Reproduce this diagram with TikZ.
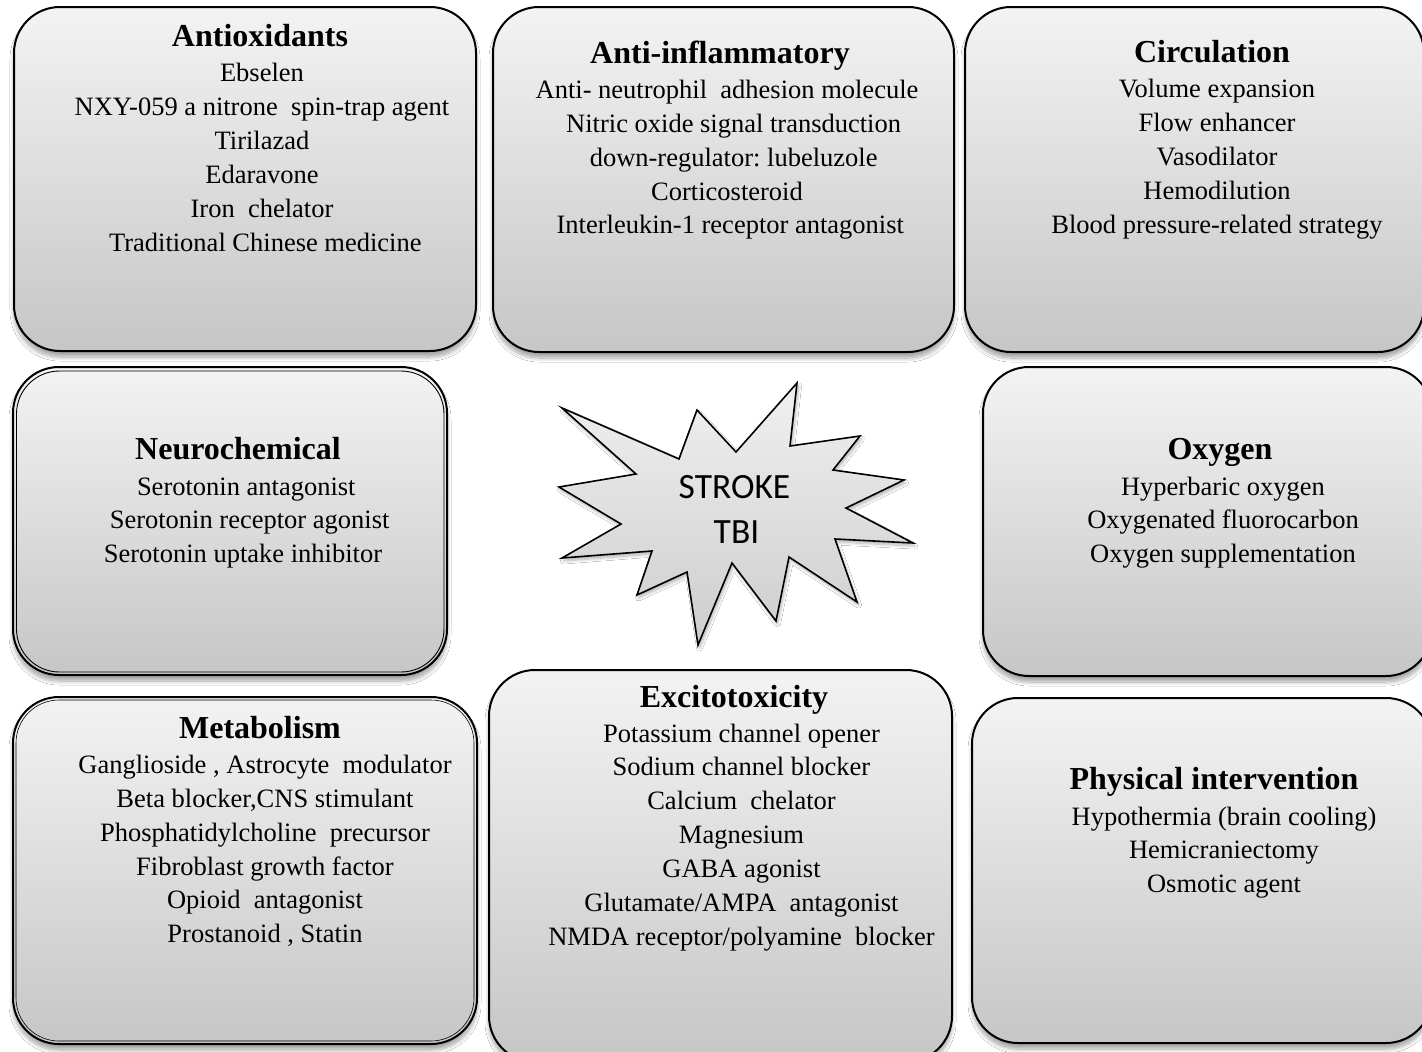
\documentclass[tikz,border=0pt]{standalone}
\usepackage{fontspec}
\setmainfont{Liberation Serif}
\newfontfamily\starfont{Carlito}
\usetikzlibrary{shadows.blur}
\definecolor{boxtop}{RGB}{243,243,243}
\definecolor{boxbot}{RGB}{198,198,198}
\definecolor{startop}{RGB}{240,240,240}
\definecolor{starbot}{RGB}{205,205,205}
\tikzset{
  box/.style={rectangle, rounded corners=46pt, draw=black, line width=2pt,
    top color=boxtop, bottom color=boxbot, inner sep=0pt, outer sep=0pt,
    blur shadow={shadow xshift=0pt, shadow yshift=-6pt, shadow blur radius=4pt, shadow opacity=35, shadow blur steps=8}},
  innerline/.style={draw=black, line width=0.9pt, rounded corners=43pt},
  title/.style={anchor=base, inner sep=0pt, font=\fontsize{32}{34}\selectfont\bfseries},
  body/.style={anchor=base, inner sep=0pt, font=\fontsize{26.5}{33.9}\selectfont},
  startext/.style={anchor=base, inner sep=0pt, font=\starfont\fontsize{35.5}{45}\selectfont},
  starshape/.style={draw=black, line width=1.6pt, line join=miter, top color=startop, bottom color=starbot,
    blur shadow={shadow xshift=1.5pt, shadow yshift=-3pt, shadow blur radius=3pt, shadow opacity=30, shadow blur steps=8}}
}
\newcommand{\lines}[1]{\begin{tabular}[t]{@{}c@{}}#1\end{tabular}}
\begin{document}
\begin{tikzpicture}[x=1pt, y=-1pt]
\fill[white] (0,0) rectangle (1422,1052);
\path[use as bounding box] (0,0) rectangle (1422,1052);
\clip (0,0) rectangle (1422,1052);

% boxes
\node[box, minimum width=462pt, minimum height=344pt] (antiox) at (245,179) {};
\node[box, minimum width=461pt, minimum height=345pt] (antiinf) at (723.5,179.5) {};
\node[box, minimum width=459pt, minimum height=345pt] (circ) at (1194.5,179.5) {};
\node[box, minimum width=434pt, minimum height=308pt] (neuro) at (230,521) {};
\draw[innerline] ([shift={(3.5pt,-4pt)}]neuro.north west) rectangle ([shift={(-3pt,3pt)}]neuro.south east);
\node[box, minimum width=449pt, minimum height=309pt] (oxy) at (1207.5,521.5) {};
\node[box, minimum width=464pt, minimum height=347pt] (metab) at (245,870.5) {};
\draw[innerline, line width=0.6pt] ([shift={(3pt,-3pt)}]metab.north west) rectangle ([shift={(-3pt,3pt)}]metab.south east);
\node[box, minimum width=463pt, minimum height=392pt] (excit) at (720.5,866) {};
\node[box, minimum width=460pt, minimum height=345pt] (phys) at (1202,870.5) {};

% star
\draw[starshape] (562,408) -- (679,459) -- (697,410) -- (736,452) -- (797,383) -- (790,446)
  -- (860,436) -- (833,470) -- (904,480) -- (846,508) -- (913,543) -- (835,539)
  -- (857,602) -- (789,557) -- (776,621) -- (732,563) -- (698,645) -- (687,572)
  -- (637,595) -- (652,551) -- (562,558) -- (621,524) -- (559,487) -- (636,474) -- cycle;
\node[startext] (stroke) at (734.5,498) {STROKE};
\node[startext] (tbi) at (736.5,543) {TBI};

% texts
\node[title] (antioxT) at (260,46.5) {Antioxidants};
\node[body] (antioxB) at (262,81.7) {\lines{Ebselen\\NXY-059 a nitrone\ \ spin-trap agent\\Tirilazad\\Edaravone\\Iron\ \ chelator\\\ Traditional Chinese medicine}};

\node[title] (antiinfT) at (720,63.3) {Anti-inflammatory};
\node[body] (antiinfB) at (727,98.3) {\lines{Anti- neutrophil\ \ adhesion molecule\ \\\ \ Nitric oxide signal transduction\\\ \ down-regulator:\ lubeluzole\\Corticosteroid\\\ Interleukin-1 receptor antagonist}};

\node[title] (circT) at (1212,62.7) {Circulation};
\node[body] (circB) at (1217,97.5) {\lines{Volume expansion\\Flow enhancer\\Vasodilator\\Hemodilution\\Blood pressure-related strategy}};

\node[title] (neuroT) at (238,459) {Neurochemical};
\node[body] (neuroB) at (243,495) {\lines{\ Serotonin antagonist\\\ \ Serotonin receptor agonist\\Serotonin uptake inhibitor}};

\node[title] (oxyT) at (1220,459) {Oxygen};
\node[body] (oxyB) at (1223,495) {\lines{Hyperbaric oxygen\\Oxygenated fluorocarbon\\Oxygen supplementation}};

\node[title] (metabT) at (260,738) {Metabolism};
\node[body] (metabB) at (265,773.3) {\lines{Ganglioside , Astrocyte\ \ modulator\\Beta blocker,CNS stimulant\\Phosphatidylcholine\ \ precursor\\Fibroblast growth factor\\Opioid\ \ antagonist\\Prostanoid ,\ Statin}};

\node[title] (excitT) at (734,707) {Excitotoxicity};
\node[body] (excitB) at (741.5,742) {\lines{Potassium channel opener\\Sodium channel blocker\\Calcium\ \ chelator\\Magnesium\\GABA agonist\\Glutamate/AMPA\ \ antagonist\\NMDA receptor/polyamine\ \ blocker}};

\node[title] (physT) at (1214,789) {Physical intervention};
\node[body] (physB) at (1224,825) {\lines{Hypothermia (brain cooling)\\Hemicraniectomy\\Osmotic agent}};
\end{tikzpicture}
\end{document}
